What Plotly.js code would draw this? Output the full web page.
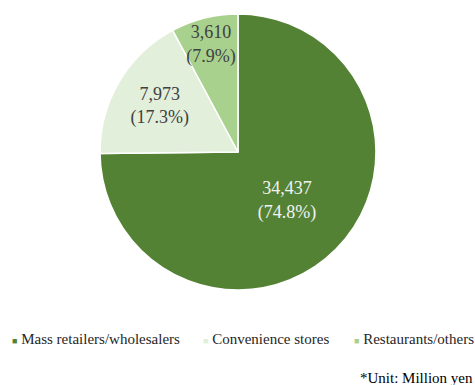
<!DOCTYPE html>
<html><head><meta charset="utf-8">
<script src="https://cdn.plot.ly/plotly-3.0.1.min.js"></script>
<style>html,body{margin:0;padding:0;background:#fff}#c{width:475px;height:385px}</style>
</head><body><div id="c"></div>
<script>
const categories = ["Mass retailers/wholesalers", "Convenience stores", "Restaurants/others"];
const values = [34437, 7973, 3610];
const percentLabels = ["74.8%", "17.3%", "7.9%"];
const colors = ["#548235", "#E2EFDA", "#A9D18E"];
const textColors = ["#F2F2F2", "#404040", "#404040"];
const unitNote = "*Unit: Million yen";

const FONT = "Liberation Serif, Times New Roman, serif";

const trace = {
  type: "pie",
  labels: categories,
  values: values,
  customdata: percentLabels,
  sort: false,
  direction: "clockwise",
  rotation: 0,
  marker: {colors: colors, line: {color: "#ffffff", width: 1.5}},
  texttemplate: "%{value:,}<br>(%{customdata})",
  textposition: "inside",
  insidetextorientation: "horizontal",
  textfont: {family: FONT, size: 18, color: textColors},
  hoverinfo: "none",
  showlegend: false,
  domain: {x: [0.2105, 0.7916], y: [0.2468, 0.9636]}
};

// legend built as text entries (small coloured squares like the reference)
const legendX = [10, 201, 352];
const legendAnn = categories.map((c, i) => ({
  text: `<span style="font-size:9px;color:${colors[i]}">■</span> ${c}`,
  xref: "paper", yref: "paper",
  x: legendX[i] / 475, y: (385 - 339) / 385,
  xanchor: "left", yanchor: "middle", showarrow: false,
  font: {family: FONT, size: 15, color: "#262626"}
}));

const layout = {
  width: 475, height: 385,
  margin: {l: 0, r: 0, t: 0, b: 0},
  paper_bgcolor: "#ffffff",
  showlegend: false,
  uniformtext: {mode: "show", minsize: 18},
  annotations: legendAnn.concat([{
    text: unitNote, xref: "paper", yref: "paper", x: 1, y: 0.018,
    xanchor: "right", yanchor: "middle", showarrow: false,
    font: {family: FONT, size: 15, color: "#000000"}
  }])
};

Plotly.newPlot("c", [trace], layout, {displayModeBar: false, staticPlot: true});
</script>
</body></html>
